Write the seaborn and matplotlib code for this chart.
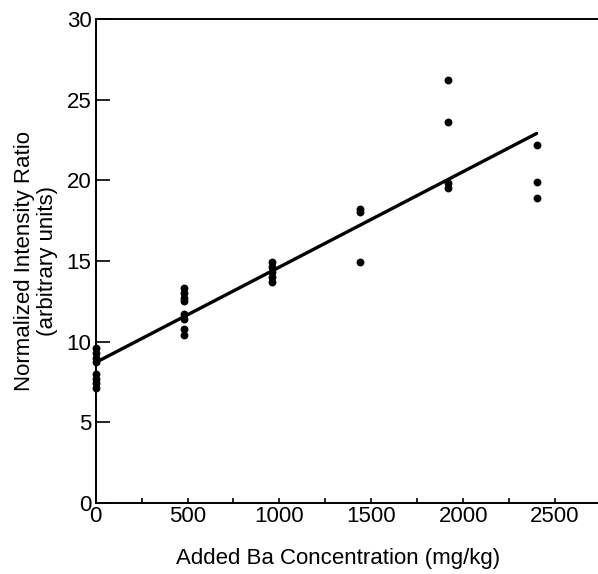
import numpy as np
import pandas as pd
import seaborn as sns
import matplotlib.pyplot as plt
from matplotlib.ticker import MultipleLocator

# data
ba_added = [0] * 8 + [480] * 8 + [960] * 5 + [1440] * 3 + [1920] * 4 + [2400] * 3
intensity = [9.6, 9.3, 9.0, 8.7, 8.0, 7.7, 7.4, 7.1,
             13.3, 13.0, 12.7, 12.5, 11.7, 11.4, 10.8, 10.4,
             14.9, 14.6, 14.3, 14.0, 13.7,
             18.2, 18.0, 14.9,
             26.2, 23.6, 19.8, 19.5,
             22.2, 19.9, 18.9]
fit_x = [0, 2400]
fit_y = [8.7, 22.9]

df = pd.DataFrame({"ba": ba_added, "ratio": intensity})
fit = pd.DataFrame({"ba": fit_x, "ratio": fit_y})

sns.set_theme(style="ticks", rc={"text.color": "black", "axes.labelcolor": "black",
                                 "xtick.color": "black", "ytick.color": "black"})
plt.rcParams["font.family"] = ["Liberation Sans", "DejaVu Sans"]

fig = plt.figure(figsize=(5.98, 5.74), dpi=100)
ax = fig.add_axes([0.16, 0.124, 0.84, 0.843])

sns.lineplot(data=fit, x="ba", y="ratio", color="black", linewidth=2.4, ax=ax)
sns.scatterplot(data=df, x="ba", y="ratio", color="black", s=32,
                edgecolor="black", linewidth=0, clip_on=False, zorder=3, ax=ax)

ax.set_xlim(0, 2734)
ax.set_ylim(0, 30)
ax.xaxis.set_major_locator(MultipleLocator(500))
ax.xaxis.set_minor_locator(MultipleLocator(250))
ax.yaxis.set_major_locator(MultipleLocator(5))

ax.tick_params(axis="y", direction="in", length=10, width=1.2, labelsize=16, pad=3)
ax.tick_params(axis="x", which="both", direction="in", length=3.5, width=1.2,
               labelsize=16, pad=2)

for side in ["left", "bottom", "top"]:
    ax.spines[side].set_linewidth(1.4)
    ax.spines[side].set_color("black")
ax.spines["right"].set_visible(False)

ax.set_xlabel("Added Ba Concentration (mg/kg)", fontsize=16)
ax.xaxis.set_label_coords(0.482, -0.094)
ax.set_ylabel("Normalized Intensity Ratio\n(arbitrary units)", fontsize=16,
              labelpad=6, linespacing=1.15)

fig.savefig("out.png", dpi=100)
